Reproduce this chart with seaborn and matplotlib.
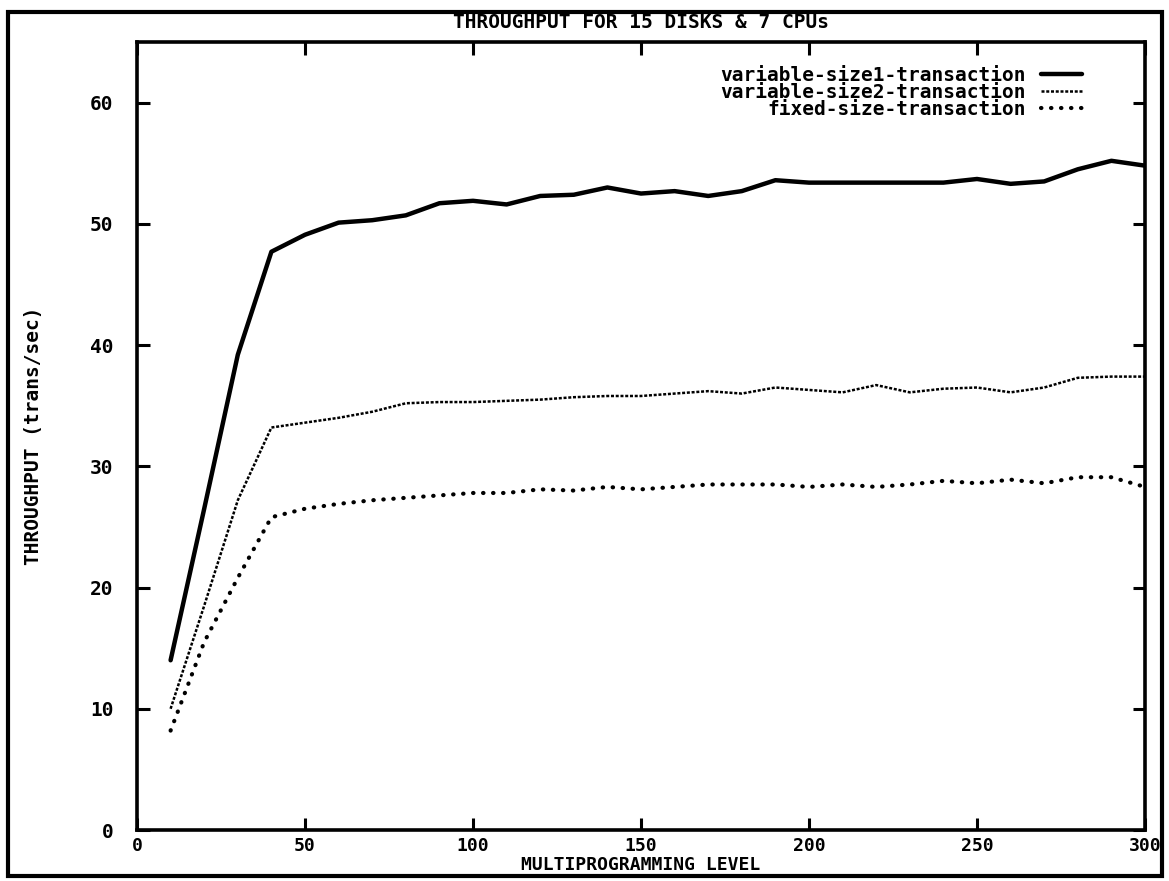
import numpy as np
import pandas as pd
import seaborn as sns
import matplotlib
matplotlib.use("Agg")
import matplotlib.pyplot as plt
from matplotlib.patches import Rectangle

# Multiprogramming levels (x axis)
mpl_levels = list(range(10, 301, 10))

# Throughput (trans/sec) per transaction mix
variable_size1 = [14.0, 26.5, 39.2, 47.7, 49.1, 50.1, 50.3, 50.7, 51.7, 51.9,
                  51.6, 52.3, 52.4, 53.0, 52.5, 52.7, 52.3, 52.7, 53.6, 53.4,
                  53.4, 53.4, 53.4, 53.4, 53.7, 53.3, 53.5, 54.5, 55.2, 54.8]
variable_size2 = [10.0, 18.5, 27.2, 33.2, 33.6, 34.0, 34.5, 35.2, 35.3, 35.3,
                  35.4, 35.5, 35.7, 35.8, 35.8, 36.0, 36.2, 36.0, 36.5, 36.3,
                  36.1, 36.7, 36.1, 36.4, 36.5, 36.1, 36.5, 37.3, 37.4, 37.4]
fixed_size = [8.2, 15.5, 20.8, 25.8, 26.5, 26.9, 27.2, 27.4, 27.6, 27.8,
              27.8, 28.1, 28.0, 28.3, 28.1, 28.3, 28.5, 28.5, 28.5, 28.3,
              28.5, 28.3, 28.5, 28.8, 28.6, 28.9, 28.6, 29.1, 29.1, 28.3]

series_names = ["variable-size1-transaction",
                "variable-size2-transaction",
                "fixed-size-transaction"]
x_ticks = [0, 50, 100, 150, 200, 250, 300]
y_ticks = [0, 10, 20, 30, 40, 50, 60]

sns.set_theme(style="white")
plt.rcParams["font.family"] = ["DejaVu Sans Mono"]
plt.rcParams["font.weight"] = "bold"
plt.rcParams["text.color"] = "black"
plt.rcParams["axes.labelcolor"] = "black"
plt.rcParams["xtick.color"] = "black"
plt.rcParams["ytick.color"] = "black"

W, H = 1169, 881
fig = plt.figure(figsize=(W / 100, H / 100), dpi=100)
ax = fig.add_axes([137 / W, 1 - 830 / H, (1145 - 137) / W, (830 - 42) / H])

styles = [
    dict(linewidth=3.2, linestyle="-"),
    dict(linewidth=1.8, linestyle=(0, (1.2, 0.7))),
    dict(linewidth=3.0, linestyle=(0, (0.1, 2.3)), dash_capstyle="round"),
]
for name, vals, st in zip(series_names, [variable_size1, variable_size2, fixed_size], styles):
    df = pd.DataFrame({"level": mpl_levels, "tput": vals})
    sns.lineplot(data=df, x="level", y="tput", ax=ax, color="black",
                 label=name, **st)

ax.set_xlim(0, 300)
ax.set_ylim(0, 65)
ax.set_xticks(x_ticks)
ax.set_yticks(y_ticks)
ax.set_xticklabels([str(t) for t in x_ticks], fontsize=13, fontweight="bold")
ax.set_yticklabels([str(t) for t in y_ticks], fontsize=14, fontweight="bold")
ax.tick_params(axis="both", direction="in", length=9, width=2.2,
               top=True, right=True, bottom=True, left=True, colors="black")
ax.tick_params(axis="x", pad=5)
ax.tick_params(axis="y", pad=17)
for sp in ax.spines.values():
    sp.set_linewidth(2.6)
    sp.set_color("black")

ax.set_xlabel("MULTIPROGRAMMING LEVEL", fontsize=13, fontweight="bold", labelpad=1)
ax.set_ylabel("THROUGHPUT (trans/sec)", fontsize=14, fontweight="bold", labelpad=34)
ax.set_title("THROUGHPUT FOR 15 DISKS & 7 CPUs", fontsize=14, fontweight="bold", pad=10)

leg = ax.legend(loc="upper right", bbox_to_anchor=(0.9375, 0.970),
                frameon=False, markerfirst=False, fontsize=14,
                handlelength=2.1, handletextpad=0.8, labelspacing=-0.1,
                borderaxespad=0.0, borderpad=0.0)
for t in leg.get_texts():
    t.set_fontweight("bold")

# Outer border around the whole page
fig.patches.append(Rectangle((8 / W, 1 - 876 / H), (1162 - 8) / W, (876 - 12) / H,
                             transform=fig.transFigure, fill=False,
                             edgecolor="black", linewidth=3.0))

fig.savefig("out.png", dpi=100, facecolor="white")
